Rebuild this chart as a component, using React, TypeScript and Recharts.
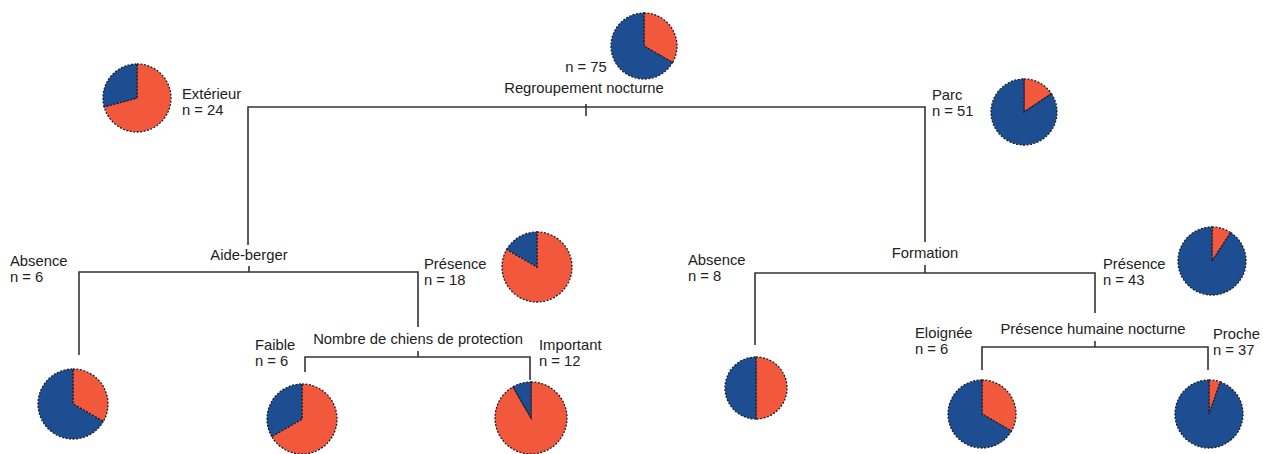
import { PieChart, Pie, Cell, Customized } from 'recharts'

const COLORS = ['#f2583c', '#1d4e91']
const CLASSES = ['attaque', 'pas attaque']

// node counts per class (red first, then blue)
const nodeIds = ['root', 'ext', 'parc', 'abs1', 'pres1', 'faible', 'important', 'abs2', 'pres2', 'eloignee', 'proche']
const redCounts = [25, 17, 8, 2, 15, 4, 11, 4, 4, 2, 2]
const blueCounts = [50, 7, 43, 4, 3, 2, 1, 4, 39, 4, 35]

const splitNames = ['Regroupement nocturne', 'Aide-berger', 'Formation', 'Nombre de chiens de protection', 'Présence humaine nocturne']
const branchLabels = ['', 'Extérieur', 'Parc', 'Absence', 'Présence', 'Faible', 'Important', 'Absence', 'Présence', 'Eloignée', 'Proche']

// layout of the drawing (pixels)
const pieCx = [644, 137, 1024, 73, 537, 302, 531, 756, 1212, 982, 1209]
const pieCy = [46, 98, 112, 404, 267, 419, 418, 388, 261, 414, 414]
const pieR = [33, 34, 33, 35, 35, 35, 36, 31, 34, 34, 34]

const FONT = 'Liberation Sans, Arial, sans-serif'

function Tree() {
  const ln = { stroke: '#333', strokeWidth: 1.6, fill: 'none' }
  const tx = { fontFamily: FONT, fontSize: 14.8, fill: '#222' }
  const txt = (x: number, y: number, s: string, anchor: 'start' | 'middle' | 'end' = 'start') => (
    <text x={x} y={y} textAnchor={anchor} {...tx}>{s}</text>
  )
  const branch = (x: number, y: number, i: number) => (
    <g>
      {txt(x, y, branchLabels[i])}
      {txt(x, y + 16, `n = ${redCounts[i] + blueCounts[i]}`)}
    </g>
  )
  return (
    <g>
      {/* root split */}
      <path d="M248,245 L248,107 L925,107 L925,242" {...ln} />
      <path d="M586,104 L586,116" {...ln} />
      {txt(586, 72, `n = ${redCounts[0] + blueCounts[0]}`, 'middle')}
      {txt(584, 93, splitNames[0], 'middle')}
      {/* Aide-berger */}
      <path d="M79,355 L79,272 L418,272 L418,327" {...ln} />
      <path d="M249,266 L249,272" {...ln} />
      {txt(249, 260, splitNames[1], 'middle')}
      {/* Formation */}
      <path d="M755,345 L755,273 L1095,273 L1095,313" {...ln} />
      <path d="M925,265 L925,273" {...ln} />
      {txt(925, 258, splitNames[2], 'middle')}
      {/* Nombre de chiens */}
      <path d="M305,372 L305,357 L530,357 L530,380" {...ln} />
      <path d="M418,351 L418,357" {...ln} />
      {txt(418, 344, splitNames[3], 'middle')}
      {/* Présence humaine */}
      <path d="M982,370 L982,347 L1208,347 L1208,370" {...ln} />
      <path d="M1095,341 L1095,347" {...ln} />
      {txt(1093, 334, splitNames[4], 'middle')}
      {branch(182, 99, 1)}
      {branch(932, 100, 2)}
      {branch(10, 266, 3)}
      {branch(424, 269, 4)}
      {branch(255, 350, 5)}
      {branch(539, 350, 6)}
      {branch(688, 265, 7)}
      {branch(1103, 269, 8)}
      {branch(915, 338, 9)}
      {branch(1213, 339, 10)}
    </g>
  )
}

export default function App() {
  return (
    <div style={{ width: 1263, height: 454, background: '#fff' }}>
      <style>{'body{margin:0}'}</style>
      <PieChart width={1263} height={454} margin={{ top: 0, right: 0, bottom: 0, left: 0 }}>
        <Customized component={<Tree />} />
        {nodeIds.map((id, i) => (
          <Pie
            key={id}
            data={CLASSES.map((c, k) => ({ name: c, value: k === 0 ? redCounts[i] : blueCounts[i] }))}
            dataKey="value"
            cx={pieCx[i]}
            cy={pieCy[i]}
            outerRadius={pieR[i]}
            innerRadius={0}
            startAngle={90}
            endAngle={-270}
            stroke="#1c1c2c"
            strokeWidth={1.3}
            strokeDasharray="2 1.5"
            isAnimationActive={false}
          >
            {CLASSES.map((c, k) => (
              <Cell key={c} fill={COLORS[k]} />
            ))}
          </Pie>
        ))}
      </PieChart>
    </div>
  )
}
